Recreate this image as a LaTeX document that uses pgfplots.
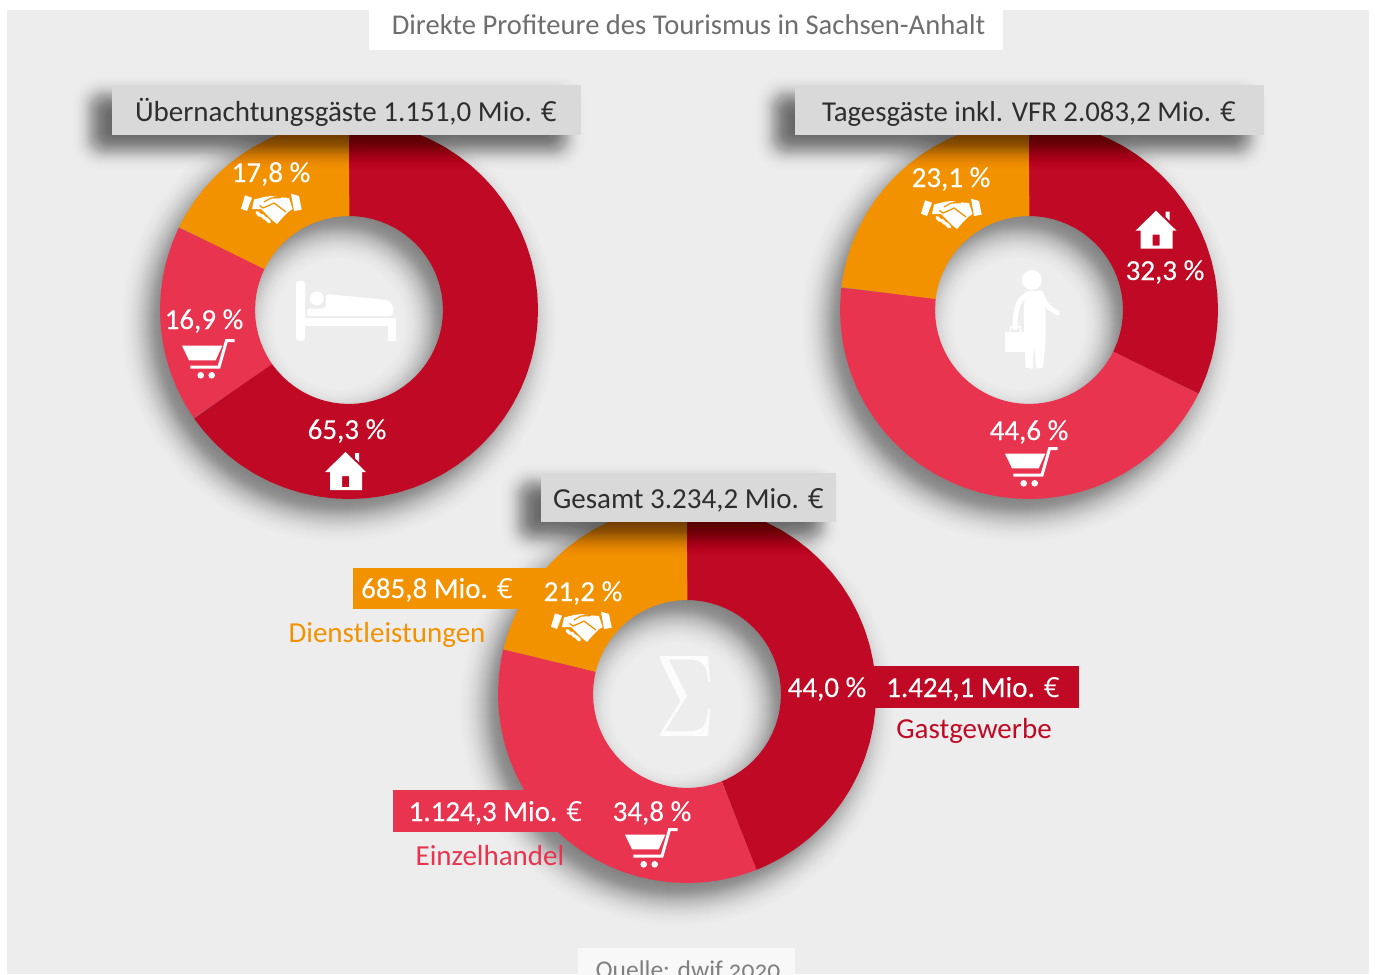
\documentclass[border=0pt]{standalone}
\usepackage{pgfplots}
\pgfplotsset{compat=1.18}
\usepgfplotslibrary{polar}
\usepackage{fontspec}
\setmainfont{Carlito}
\newfontfamily\eurfont{Open Sans}
\newcommand\E{{\eurfont\scalebox{0.95}{€}}}
\definecolor{cred}{HTML}{C00A25}
\definecolor{cpink}{HTML}{E9344F}
\definecolor{corange}{HTML}{F39200}
\definecolor{cbg}{HTML}{EDEDED}
\definecolor{cbox}{HTML}{D9D9D9}
\definecolor{cdark}{HTML}{2E2E2E}
\definecolor{cgrey}{HTML}{6E6E6E}
\pgfplotsset{donut/.style={hide axis,scale only axis,width=378pt,height=378pt,ymin=0,ymax=189,xmin=0,xmax=360,clip=false,anchor=center},
  ring/.style={line width=95pt,line cap=butt,line join=round,mark=none}}
\newcommand\T[5]{\node[anchor=base,inner sep=0pt,text=#3,font=\fontsize{#4}{#4}\selectfont] at (#1,#2) {#5};}
\newcommand\W[3]{\node[anchor=base,inner sep=0pt,text=white,font=\fontsize{29}{29}\selectfont\addfontfeatures{FakeBold=0.25}] at (#1,#2) {#3};}
\newcommand\donutshadow[2]{%
  \foreach \t in {-36,-35,...,36}{%
    \pgfmathsetmacro\w{95+2*\t}
    \pgfmathsetmacro\a{0.0145*exp(-(\t*\t)/(2*15*15))}
    \draw[black,opacity=\a,line width=\w pt] (#1-10,#2+14) circle[radius=141.5pt];}}
\newcommand\boxshadow[4]{%
  \foreach \t in {-24,-23,...,24}{%
    \pgfmathsetmacro\a{0.03*exp(-(\t*\t)/(2*9.5*9.5))}
    \pgfmathsetmacro\rc{max(14+0.6*\t,2)}
    \fill[black,opacity=\a,rounded corners=\rc pt] (#1-18-\t,#2+13-\t) rectangle (#3-18+\t,#4+13+\t);}}
\newcommand\house[2]{\begin{scope}[shift={(#1,#2)}]
  \fill[white,even odd rule] (0,0)--(20.5,20)--(16.5,20)--(16.5,38)--(-15.5,38)--(-15.5,20)--(-20.5,20)--cycle (-3.5,24) rectangle (3.5,35);
  \fill[white] (9.5,1)--(13.5,1)--(13.5,10)--(9.5,6)--cycle;
\end{scope}}
\newcommand\cart[2]{\begin{scope}[shift={(#1,#2)}]
  \fill[white] (0,6.7)--(40.3,6.7)--(33.7,21.3)--(7,21.3)--cycle;
  \draw[white,line width=3pt,line join=miter] (52.7,1.7)--(44.5,1.7)--(37,28)--(8.3,28);
  \fill[white] (18.7,36.3) circle[radius=3.3];
  \fill[white] (29.7,36.3) circle[radius=3.3];
\end{scope}}
\newcommand\hands[2]{\begin{scope}[shift={(#1,#2)}]
  \fill[white] (4,2.3)--(11,4.7)--(6,18)--(0,15.7)--cycle;
  \fill[white] (50,0.7)--(58,3)--(60.7,16.7)--(53,18)--cycle;
  \fill[white] (13,6.5)--(23,4)--(30,3)--(36,4)--(48,5)--(51.5,16)--(47,19)--(43,23)--(36,31)--(31,27)--(20,16)--(11,16)--cycle;
  \draw[corange,line width=1.3pt,line join=round] (18.5,12.5)--(22,15)--(29,12)--(33,10)--(45,19);
  \draw[corange,line width=1.3pt] (23,9)--(30,5)--(40,4.5);
  \draw[white,line width=3.5pt,line cap=round] (16,19.5)--(19,22.5) (20.5,22)--(24,25.5) (25,25.5)--(28.5,29);
\end{scope}}
\begin{document}
\begin{tikzpicture}[x=1pt,y=-1pt]
\useasboundingbox (0,0) rectangle (1375,974);
\clip (0,0) rectangle (1375,974);
\fill[white] (0,0) rectangle (1375,974);
\fill[cbg] (7,10) rectangle (1369,974);
\fill[white] (369,-2) rectangle (1003,50);
\fill[white!60!cbg] (578,948) rectangle (795,980);
\donutshadow{349}{310}
\donutshadow{1029}{310}
\donutshadow{687}{694}

% Uebernachtungsgaeste: 65,3 / 16,9 / 17,8 %
\begin{polaraxis}[donut,at={(349pt,-310pt)}]
\addplot[ring,cred] coordinates {(90,141.5)(89.6,141.5)(88.5,141.5)(85,141.5)(80,141.5)(75,141.5)(70,141.5)(65,141.5)(60,141.5)(55,141.5)(50,141.5)(45,141.5)(40,141.5)(35,141.5)(30,141.5)(25,141.5)(20,141.5)(15,141.5)(10,141.5)(5,141.5)(0,141.5)(-5,141.5)(-10,141.5)(-15,141.5)(-20,141.5)(-25,141.5)(-30,141.5)(-35,141.5)(-40,141.5)(-45,141.5)(-50,141.5)(-55,141.5)(-60,141.5)(-65,141.5)(-70,141.5)(-75,141.5)(-80,141.5)(-85,141.5)(-90,141.5)(-95,141.5)(-100,141.5)(-105,141.5)(-110,141.5)(-115,141.5)(-120,141.5)(-125,141.5)(-130,141.5)(-135,141.5)(-140,141.5)(-143.58,141.5)(-144.68,141.5)(-145.08,141.5)};
\addplot[ring,cpink] coordinates {(-145.08,141.5)(-145.48,141.5)(-146.58,141.5)(-150,141.5)(-155,141.5)(-160,141.5)(-165,141.5)(-170,141.5)(-175,141.5)(-180,141.5)(-185,141.5)(-190,141.5)(-195,141.5)(-200,141.5)(-204.42,141.5)(-205.52,141.5)(-205.92,141.5)};
\addplot[ring,corange] coordinates {(-205.92,141.5)(-206.32,141.5)(-207.42,141.5)(-210,141.5)(-215,141.5)(-220,141.5)(-225,141.5)(-230,141.5)(-235,141.5)(-240,141.5)(-245,141.5)(-250,141.5)(-255,141.5)(-260,141.5)(-265,141.5)(-268.5,141.5)(-269.6,141.5)(-270,141.5)};
\end{polaraxis}

% Tagesgaeste: 32,3 / 44,6 / 23,1 %
\begin{polaraxis}[donut,at={(1029pt,-310pt)}]
\addplot[ring,cred] coordinates {(90,141.5)(89.6,141.5)(88.5,141.5)(85,141.5)(80,141.5)(75,141.5)(70,141.5)(65,141.5)(60,141.5)(55,141.5)(50,141.5)(45,141.5)(40,141.5)(35,141.5)(30,141.5)(25,141.5)(20,141.5)(15,141.5)(10,141.5)(5,141.5)(0,141.5)(-5,141.5)(-10,141.5)(-15,141.5)(-20,141.5)(-24.78,141.5)(-25.88,141.5)(-26.28,141.5)};
\addplot[ring,cpink] coordinates {(-26.28,141.5)(-26.68,141.5)(-27.78,141.5)(-30,141.5)(-35,141.5)(-40,141.5)(-45,141.5)(-50,141.5)(-55,141.5)(-60,141.5)(-65,141.5)(-70,141.5)(-75,141.5)(-80,141.5)(-85,141.5)(-90,141.5)(-95,141.5)(-100,141.5)(-105,141.5)(-110,141.5)(-115,141.5)(-120,141.5)(-125,141.5)(-130,141.5)(-135,141.5)(-140,141.5)(-145,141.5)(-150,141.5)(-155,141.5)(-160,141.5)(-165,141.5)(-170,141.5)(-175,141.5)(-180,141.5)(-185.34,141.5)(-186.44,141.5)(-186.84,141.5)};
\addplot[ring,corange] coordinates {(-186.84,141.5)(-187.24,141.5)(-188.34,141.5)(-190,141.5)(-195,141.5)(-200,141.5)(-205,141.5)(-210,141.5)(-215,141.5)(-220,141.5)(-225,141.5)(-230,141.5)(-235,141.5)(-240,141.5)(-245,141.5)(-250,141.5)(-255,141.5)(-260,141.5)(-265,141.5)(-268.5,141.5)(-269.6,141.5)(-270,141.5)};
\end{polaraxis}

% Gesamt: 44,0 / 34,8 / 21,2 %
\begin{polaraxis}[donut,at={(687pt,-694pt)}]
\addplot[ring,cred] coordinates {(90,141.5)(89.6,141.5)(88.5,141.5)(85,141.5)(80,141.5)(75,141.5)(70,141.5)(65,141.5)(60,141.5)(55,141.5)(50,141.5)(45,141.5)(40,141.5)(35,141.5)(30,141.5)(25,141.5)(20,141.5)(15,141.5)(10,141.5)(5,141.5)(0,141.5)(-5,141.5)(-10,141.5)(-15,141.5)(-20,141.5)(-25,141.5)(-30,141.5)(-35,141.5)(-40,141.5)(-45,141.5)(-50,141.5)(-55,141.5)(-60,141.5)(-65,141.5)(-66.9,141.5)(-68,141.5)(-68.4,141.5)};
\addplot[ring,cpink] coordinates {(-68.4,141.5)(-68.8,141.5)(-69.9,141.5)(-75,141.5)(-80,141.5)(-85,141.5)(-90,141.5)(-95,141.5)(-100,141.5)(-105,141.5)(-110,141.5)(-115,141.5)(-120,141.5)(-125,141.5)(-130,141.5)(-135,141.5)(-140,141.5)(-145,141.5)(-150,141.5)(-155,141.5)(-160,141.5)(-165,141.5)(-170,141.5)(-175,141.5)(-180,141.5)(-185,141.5)(-190,141.5)(-192.18,141.5)(-193.28,141.5)(-193.68,141.5)};
\addplot[ring,corange] coordinates {(-193.68,141.5)(-194.08,141.5)(-195.18,141.5)(-200,141.5)(-205,141.5)(-210,141.5)(-215,141.5)(-220,141.5)(-225,141.5)(-230,141.5)(-235,141.5)(-240,141.5)(-245,141.5)(-250,141.5)(-255,141.5)(-260,141.5)(-265,141.5)(-268.5,141.5)(-269.6,141.5)(-270,141.5)};
\end{polaraxis}

% connected value boxes
\fill[corange] (353,568) rectangle (550,609);
\fill[cred] (860,666) rectangle (1079,708);
\fill[cpink] (393,790) rectangle (560,832);

% header boxes with shadows
\boxshadow{112}{85}{581}{135}
\boxshadow{795}{85}{1264}{135}
\boxshadow{541}{473}{836}{522}
\fill[cbox] (112,85) rectangle (581,135);
\fill[cbox] (795,85) rectangle (1264,135);
\fill[cbox] (541,473) rectangle (836,522);

% texts
\T{688.5}{35}{cgrey}{28.6}{Direkte Profiteure des Tourismus in Sachsen-Anhalt}
\T{346}{121}{cdark}{29}{Übernachtungsgäste 1.151,0 Mio. \E}
\T{1029}{121}{cdark}{28.8}{Tagesgäste inkl. VFR 2.083,2 Mio. \E}
\T{688.5}{508}{cdark}{29}{Gesamt 3.234,2 Mio. \E}
\W{271}{182}{17,8 \%}
\W{204}{329}{16,9 \%}
\W{347}{439}{65,3 \%}
\W{951}{187}{23,1 \%}
\W{1165}{280}{32,3 \%}
\W{1029}{440}{44,6 \%}
\W{583}{601}{21,2 \%}
\W{827}{697}{44,0 \%}
\W{652}{821}{34,8 \%}
\W{437}{598}{685,8 Mio. \E}
\W{973}{697}{1.424,1 Mio. \E}
\W{495.5}{821}{1.124,3 Mio. \E}
\T{387}{642}{corange}{29}{Dienstleistungen}
\T{974}{738}{cred}{29}{Gastgewerbe}
\T{490}{865}{cpink}{29}{Einzelhandel}
\T{688}{978}{gray}{25.5}{\addfontfeatures{Numbers=OldStyle}Quelle: dwif 2020}

% icons
\house{345.5}{452}
\house{1156}{210.7}
\cart{182}{339}
\cart{1005}{447}
\cart{625}{828}
\hands{241}{193}
\hands{921}{198}
\hands{551}{611}

% bed
\fill[white,rounded corners=3pt] (296,281) rectangle (305,341);
\fill[white] (296,318) rectangle (396,326);
\fill[white] (388,318) rectangle (396,341);
\fill[white] (316.7,298.3) circle[radius=7];
\fill[white,rounded corners=3pt] (326,294)--(388,300)--(393,305)--(393,316)--(307,316)--(307,308.5)--(326,308.5)--cycle;

% person
\fill[white] (1031.7,280) circle[radius=10];
\draw[white,line width=5pt,line cap=round] (1029,293) .. controls (1020,298) and (1015,306) .. (1015,328);
\draw[white,line width=5pt,line cap=round] (1041,293.3) .. controls (1044,302) and (1046,307) .. (1057.3,312.7);
\fill[white,draw=white,line width=1pt,line join=round] (1026,292)--(1040,291)--(1045,310)--(1045,343)--(1042.7,367)--(1036.5,368)--(1034,337)--(1032.2,368.3)--(1026,367)--(1024,310)--cycle;
\fill[white] (1005,331.7) rectangle (1025,351.7);
\draw[white,line width=1.5pt] (1010,332)--(1011,326.5)--(1020,326.5)--(1021,332);

% sum sign
\node[inner sep=0pt,text=white!85!cbg] at (686,696) {\resizebox{60pt}{80pt}{$\Sigma$}};
\end{tikzpicture}
\end{document}
